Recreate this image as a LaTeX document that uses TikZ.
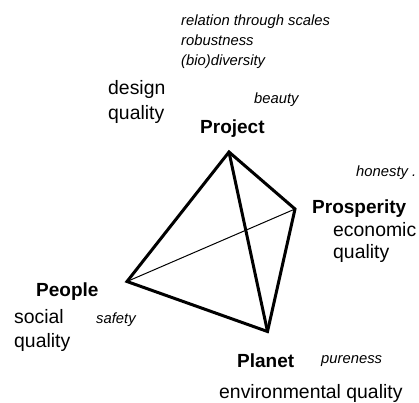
\documentclass[tikz,border=0pt]{standalone}
\usepackage{fontspec}
\setmainfont{Liberation Sans}
\begin{document}
\begin{tikzpicture}[x=1pt,y=-1pt,
  lbl/.style={inner sep=0pt,anchor=base west,font=\fontsize{19.4}{23}\selectfont},
  bold/.style={lbl,font=\fontsize{19}{23}\selectfont\bfseries},
  ital/.style={inner sep=0pt,anchor=base west,font=\fontsize{14.8}{18}\selectfont\itshape},
  thickedge/.style={line width=3pt,line join=miter,line cap=round},
  thinedge/.style={line width=1pt}]
\useasboundingbox (0,0) rectangle (419,402);
\coordinate (top) at (229,152);
\coordinate (pros) at (295,209);
\coordinate (peop) at (127,281.5);
\coordinate (plan) at (267.5,331.5);
\draw[thinedge] (peop) -- (pros);
\draw[thickedge] (top) -- (pros) -- (plan) -- (peop) -- cycle;
\draw[thickedge] (top) -- (plan);
\node[ital] (rel) at (181,25) {relation through scales};
\node[ital] (rob) at (181,45) {robustness};
\node[ital] (bio) at (181,65) {(bio)diversity};
\node[lbl] (des) at (108,94) {design};
\node[lbl] (desq) at (108,119) {quality};
\node[ital] (bea) at (254,103) {beauty};
\node[bold] (proj) at (200,133) {Project};
\node[ital] (hon) at (356,176) {honesty .};
\node[bold] (prosp) at (312,213) {Prosperity};
\node[lbl] (eco) at (333,236) {economic};
\node[lbl] (ecoq) at (333,258) {quality};
\node[bold] (people) at (36,296) {People};
\node[lbl] (soc) at (14,323) {social};
\node[ital] (saf) at (96,323) {safety};
\node[lbl] (socq) at (14,347) {quality};
\node[bold] (planet) at (237,367) {Planet};
\node[ital] (pur) at (321,363) {pureness};
\node[lbl] (env) at (219,398) {environmental quality};
\end{tikzpicture}
\end{document}
